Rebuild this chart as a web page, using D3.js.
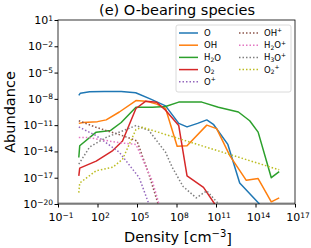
<!DOCTYPE html>
<html>
<head>
<meta charset="utf-8">
<script src="https://cdn.jsdelivr.net/npm/d3@7"></script>
<style>
  body { margin: 0; background: #fff; }
  text { font-family: "DejaVu Sans", sans-serif; }
</style>
</head>
<body>
<div id="chart"></div>
<script>
// data: log10(density), log10(abundance)
var O_x   = [0.58, 0.7, 1.4, 2.5, 3.8, 4.9, 6.0, 7.17, 8.17, 8.8, 9.6, 10.3, 10.8, 11.9, 12.8, 14.3];
var O_y   = [-7.6, -7.35, -7.2, -7.15, -7.15, -7.3, -8.0, -8.8, -10.8, -11.2, -10.8, -10.4, -10.9, -13.2, -17.6, -20];
var OH_x  = [0.58, 0.9, 2.0, 2.66, 3.66, 4.92, 5.67, 6.5, 7.17, 8.05, 8.8, 10.3, 11.05, 12.06, 13.3, 14.2, 15.2, 15.8];
var OH_y  = [-10.8, -10.7, -10.6, -10.4, -9.5, -8.2, -8.26, -8.6, -9.1, -13.4, -13.35, -11.0, -11.4, -14.5, -17.3, -17.1, -19.75, -19.3];
var H2O_x = [0.58, 0.65, 1.9, 3.0, 3.8, 4.92, 6.17, 7.17, 8.17, 9.92, 11.18, 12.7, 13.56, 14.2, 15.2, 15.8];
var H2O_y = [-14.7, -13.35, -11.8, -11.6, -10.7, -8.95, -8.95, -8.87, -8.37, -8.37, -8.95, -9.5, -10.5, -11.8, -17.0, -16.3];
var O2_x  = [0.58, 0.65, 1.9, 3.16, 3.9, 4.92, 5.67, 6.5, 7.17, 8.17, 8.8, 10.05, 10.9];
var O2_y  = [-16.8, -15.9, -15.1, -13.9, -12.8, -9.1, -8.26, -8.4, -9.3, -11.05, -16.8, -18.1, -20];
var Op_x  = [0.58, 1.9, 3.66, 5.17, 5.9];
var Op_y  = [-11.2, -12.2, -14.1, -17.0, -20];
var OHp_x = [0.58, 1.9, 3.9, 5.0, 5.9, 6.6];
var OHp_y = [-10.5, -11.25, -12.2, -12.8, -16.6, -20];
var H2Op_x = [0.58, 1.2, 3.66, 4.92, 6.17, 6.67];
var H2Op_y = [-12.4, -12.4, -13.0, -13.2, -17.4, -20];
var H3Op_x = [0.58, 1.4, 2.66, 4.92, 5.9, 7.17, 7.67, 8.5, 9.5, 10.3, 11.2];
var H3Op_y = [-15.45, -13.5, -12.4, -11.05, -11.6, -14.1, -15.8, -18.0, -19.3, -18.5, -20];
var O2p_x = [0.58, 0.65, 1.9, 3.16, 3.9, 4.92, 5.42, 15.8];
var O2p_y = [-18.7, -17.6, -16.2, -15.8, -14.9, -11.5, -11.25, -16.1];

var species = [
  { name: "O",    x: O_x,    y: O_y,    color: "#1f77b4", dot: false, label: ["O"] },
  { name: "OH",   x: OH_x,   y: OH_y,   color: "#ff7f0e", dot: false, label: ["OH"] },
  { name: "H2O",  x: H2O_x,  y: H2O_y,  color: "#2ca02c", dot: false, label: ["H", "2", "O"] },
  { name: "O2",   x: O2_x,   y: O2_y,   color: "#d62728", dot: false, label: ["O", "2"] },
  { name: "O+",   x: Op_x,   y: Op_y,   color: "#9467bd", dot: true,  label: ["O", "+"] },
  { name: "OH+",  x: OHp_x,  y: OHp_y,  color: "#8c564b", dot: true,  label: ["OH", "+"] },
  { name: "H2O+", x: H2Op_x, y: H2Op_y, color: "#e377c2", dot: true,  label: ["H", "2", "O", "+"] },
  { name: "H3O+", x: H3Op_x, y: H3Op_y, color: "#7f7f7f", dot: true,  label: ["H", "3", "O", "+"] },
  { name: "O2+",  x: O2p_x,  y: O2p_y,  color: "#bcbd22", dot: true,  label: ["O", "2", "+"] }
];
// legend label parts: sub/sup markup
var labelKinds = {
  "O": ["n"], "OH": ["n"], "H2O": ["n", "sub", "n"], "O2": ["n", "sub"],
  "O+": ["n", "sup"], "OH+": ["n", "sup"], "H2O+": ["n", "sub", "n", "sup"],
  "H3O+": ["n", "sub", "n", "sup"], "O2+": ["n", "sub", "sup"]
};

var xTicks = [-1, 2, 5, 8, 11, 14, 17];
var yTicks = [1, -2, -5, -8, -11, -14, -17, -20];

var W = 311, H = 248;
var MARGIN = { top: 20, right: 16, bottom: 44, left: 58 };
var width = W - MARGIN.left - MARGIN.right;
var height = H - MARGIN.top - MARGIN.bottom;

var svg = d3.select("#chart").append("svg")
  .attr("width", W).attr("height", H);
var g = svg.append("g").attr("transform", "translate(" + MARGIN.left + "," + MARGIN.top + ")");

var xScale = d3.scaleLog().domain([1e-1, 1e17]).range([0, width]);
var yScale = d3.scaleLog().domain([1e-20, 1e1]).range([height, 0]);

g.append("clipPath").attr("id", "clip").append("rect")
  .attr("width", width).attr("height", height);

// floor band
g.append("line")
  .attr("x1", 0).attr("x2", width)
  .attr("y1", height - 1).attr("y2", height - 1)
  .attr("stroke", "#cccccc").attr("stroke-width", 2);

var line = d3.line()
  .x(function (d) { return xScale(Math.pow(10, d[0])); })
  .y(function (d) { return yScale(Math.pow(10, d[1])); });

var plot = g.append("g").attr("clip-path", "url(#clip)");
species.forEach(function (s) {
  var pts = s.x.map(function (v, i) { return [v, s.y[i]]; });
  plot.append("path")
    .datum(pts)
    .attr("d", line)
    .attr("fill", "none")
    .attr("stroke", s.color)
    .attr("stroke-width", 1.5)
    .attr("stroke-dasharray", s.dot ? "1.5,2" : null)
    .attr("stroke-linejoin", "round");
});

// frame
g.append("rect").attr("width", width).attr("height", height)
  .attr("fill", "none").attr("stroke", "#000").attr("stroke-width", 0.8);

// axes
var xAxis = d3.axisBottom(xScale)
  .tickValues(xTicks.map(function (e) { return Math.pow(10, e); }))
  .tickSize(3.5).tickFormat("");
var yAxis = d3.axisLeft(yScale)
  .tickValues(yTicks.map(function (e) { return Math.pow(10, e); }))
  .tickSize(3.5).tickFormat("");
var gx = g.append("g").attr("transform", "translate(0," + height + ")").call(xAxis);
var gy = g.append("g").call(yAxis);
gx.select(".domain").remove();
gy.select(".domain").remove();

function powLabel(sel, e) {
  sel.append("tspan").text("10");
  sel.append("tspan").attr("dy", "-0.45em").style("font-size", "7.5px")
    .text(e < 0 ? "\u2212" + (-e) : String(e));
}

xTicks.forEach(function (e) {
  var t = g.append("text")
    .attr("x", xScale(Math.pow(10, e)) + 3)
    .attr("y", height + 17)
    .attr("text-anchor", "middle")
    .style("font-size", "11px");
  powLabel(t, e);
});
yTicks.forEach(function (e) {
  var t = g.append("text")
    .attr("x", -5)
    .attr("y", yScale(Math.pow(10, e)) + 4)
    .attr("text-anchor", "end")
    .style("font-size", "11px");
  powLabel(t, e);
});

// title and axis labels
svg.append("text").attr("x", 177).attr("y", 15)
  .attr("text-anchor", "middle").style("font-size", "14.5px")
  .text("(e) O-bearing species");

svg.append("text")
  .attr("transform", "translate(15," + (MARGIN.top + height / 2) + ") rotate(-90)")
  .attr("text-anchor", "middle").style("font-size", "14.5px")
  .text("Abundance");

var xl = svg.append("text").attr("x", 178).attr("y", 242)
  .attr("text-anchor", "middle").style("font-size", "14.5px");
xl.append("tspan").text("Density [cm");
xl.append("tspan").attr("dy", "-0.5em").style("font-size", "10px").text("\u22123");
xl.append("tspan").attr("dy", "0.5em").text("]");

// legend
var lg = svg.append("g");
lg.append("rect")
  .attr("x", 176).attr("y", 25).attr("width", 115).attr("height", 67)
  .attr("rx", 2).attr("fill", "#fff").attr("fill-opacity", 0.8)
  .attr("stroke", "#d0d0d0").attr("stroke-width", 0.8);

species.forEach(function (s, i) {
  var col = i < 5 ? 0 : 1;
  var row = i < 5 ? i : i - 5;
  var x0 = col === 0 ? 179 : 239;
  var y0 = 33 + row * 12.2;
  lg.append("line")
    .attr("x1", x0).attr("x2", x0 + 19)
    .attr("y1", y0).attr("y2", y0)
    .attr("stroke", s.color).attr("stroke-width", 1.5)
    .attr("stroke-dasharray", s.dot ? "1.5,2" : null);
  var t = lg.append("text")
    .attr("x", x0 + 25).attr("y", y0 + 3)
    .style("font-size", "8.5px");
  var kinds = labelKinds[s.name];
  s.label.forEach(function (part, j) {
    var k = kinds[j];
    var ts = t.append("tspan").text(part);
    if (k === "sub") ts.style("font-size", "6px").attr("dy", "0.3em");
    else if (k === "sup") ts.style("font-size", "6px").attr("dy", j > 0 && kinds[j - 1] === "sub" ? "-0.9em" : "-0.6em");
    else if (j > 0 && kinds[j - 1] === "sub") ts.attr("dy", "-0.2em");
  });
});
</script>
</body>
</html>
